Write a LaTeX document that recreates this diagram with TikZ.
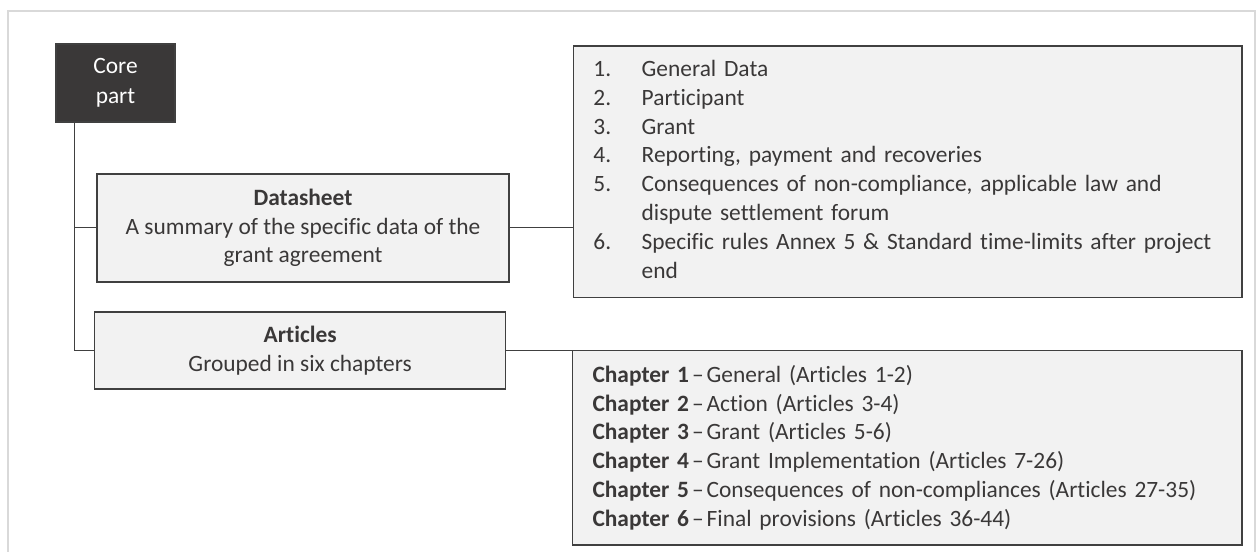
\documentclass[tikz,border=0pt]{standalone}
\usepackage{fontspec}
\setmainfont[Ligatures=NoCommon]{Carlito}
\usepackage{array}
\definecolor{txt}{HTML}{3A3838}
\definecolor{dark}{HTML}{3A3838}
\definecolor{boxfill}{HTML}{F2F2F2}
\definecolor{boxline}{HTML}{404040}
\definecolor{framecol}{HTML}{D9D9D9}
\newcommand{\chdash}{\hspace{1.5pt}–\hspace{1.5pt}}
\begin{document}
\begin{tikzpicture}[x=0.5pt,y=-0.5pt, font=\fontsize{11.7}{14.4}\selectfont,
  box/.style={draw=boxline, line width=0.8pt, fill=boxfill, text=txt, inner sep=0pt, align=center},
  conn/.style={draw=boxline, line width=0.6pt}]
\useasboundingbox (0,0) rectangle (1260,552);
\clip (0,0) rectangle (1260,552);
\fill[white] (0,0) rectangle (1260,552);
\draw[framecol, line width=1pt] (7.7,600) -- (7.7,11) -- (1255,11) -- (1255,600);

\node[box, fill=dark, text=white, minimum width=59.5pt, minimum height=38.85pt] (core) at (115.5,82.85) {Core\\[0.3pt]part};
\node[box, minimum width=206pt, minimum height=53.85pt] (data) at (303,227.85) {\textbf{Datasheet}\\A summary of the specific data of the\\grant agreement};
\node[box, minimum width=205.5pt, minimum height=38.65pt] (art) at (300.15,350.35) {\textbf{Articles}\\Grouped in six chapters};
\node[box, minimum width=334.15pt, minimum height=125.8pt, text width=314.15pt, align=left, inner xsep=10pt] (list) at (907.55,171.5) {\begin{tabular}{@{}p{24.15pt}@{}l@{}}
1. & General Data\\
2. & Participant\\
3. & Grant\\
4. & Reporting, payment and recoveries\\
5. & Consequences of non-compliance, applicable law and\\
   & dispute settlement forum\\
6. & Specific rules Annex 5 \& Standard time-limits after project\\
   & end
\end{tabular}};
\node[box, minimum width=334.6pt, minimum height=97.35pt, text width=314.6pt, align=left, inner xsep=10pt] (chap) at (907.1,447.65) {\textbf{Chapter 1}\chdash General (Articles 1-2)\\
\textbf{Chapter 2}\chdash Action (Articles 3-4)\\
\textbf{Chapter 3}\chdash Grant (Articles 5-6)\\
\textbf{Chapter 4}\chdash Grant Implementation (Articles 7-26)\\
\textbf{Chapter 5}\chdash Consequences of non-compliances (Articles 27-35)\\
\textbf{Chapter 6}\chdash Final provisions (Articles 36-44)};

\draw[conn] (core.south west) ++(19.5,0) |- (data.west);
\draw[conn] (core.south west) ++(19.5,0) |- (art.west);
\draw[conn] (data.east) -- (data.east -| list.west);
\draw[conn] (art.east) -- (art.east -| chap.west);
\end{tikzpicture}
\end{document}
